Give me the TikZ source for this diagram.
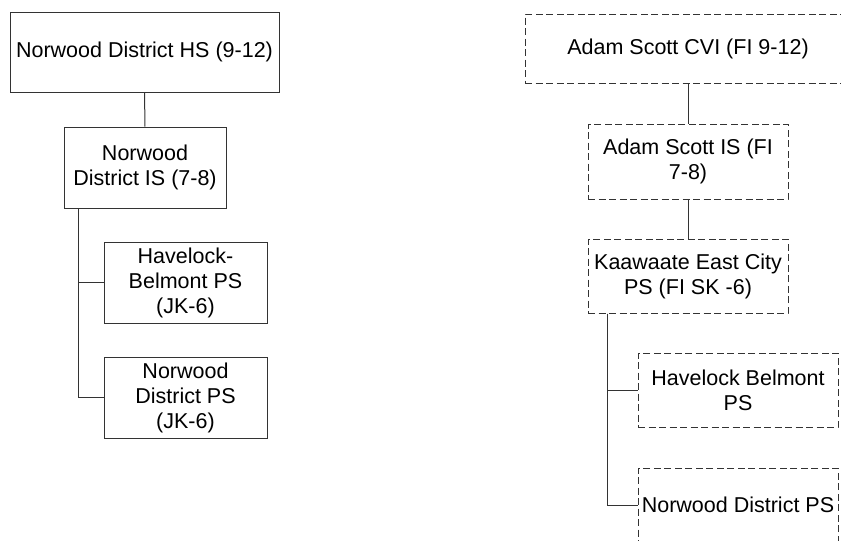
\documentclass[tikz,border=0pt]{standalone}
\usepackage{fontspec}
\setmainfont{Liberation Sans}
\usepackage{tikz}

\begin{document}
\begin{tikzpicture}[x=1pt,y=-1pt,
  every node/.style={font=\fontsize{21.5}{25}\selectfont, align=center, inner sep=0pt},
  school/.style={draw=black!80, line width=1pt, rectangle},
  fischool/.style={school, dash pattern=on 7pt off 3.5pt},
  link/.style={draw=black!80, line width=1pt}]
\useasboundingbox (0,0) rectangle (841,541);
\clip (0,0) rectangle (841,541);

% English program
\node[school, minimum width=269pt, minimum height=80pt] (hs) at (144.5,52) {Norwood District HS (9-12)};
\node[school, minimum width=162pt, minimum height=81pt] (is) at (145,167.5) {Norwood\\District IS (7-8)};
\node[school, minimum width=163pt, minimum height=81pt] (hb) at (185.5,282.5) {Havelock-\\Belmont PS\\(JK-6)};
\node[school, minimum width=163pt, minimum height=81pt] (np) at (185.5,397.5) {Norwood\\District PS\\(JK-6)};

\draw[link] (hs) -- (is);
\draw[link] ([xshift=15pt]is.south west) |- (hb.west);
\draw[link] ([xshift=15pt]is.south west) |- (np.west);

% French immersion
\node[fischool, minimum width=326pt, minimum height=69pt] (cvi) at (688,48.5) {Adam Scott CVI (FI 9-12)};
\node[fischool, minimum width=200pt, minimum height=75pt] (fis) at (688,161.5) {Adam Scott IS (FI\\7-8)};
\node[fischool, minimum width=200pt, minimum height=74pt] (ke) at (688,276) {Kaawaate East City\\PS (FI SK -6)};
\node[fischool, minimum width=200pt, minimum height=74pt] (fhb) at (738,390) {Havelock Belmont\\PS};
\node[fischool, minimum width=200pt, minimum height=74pt] (fnp) at (738,505) {Norwood District PS};

\draw[link] (cvi) -- (fis);
\draw[link] (fis) -- (ke);
\draw[link] ([xshift=20pt]ke.south west) |- (fhb.west);
\draw[link] ([xshift=20pt]ke.south west) |- (fnp.west);
\end{tikzpicture}
\end{document}
